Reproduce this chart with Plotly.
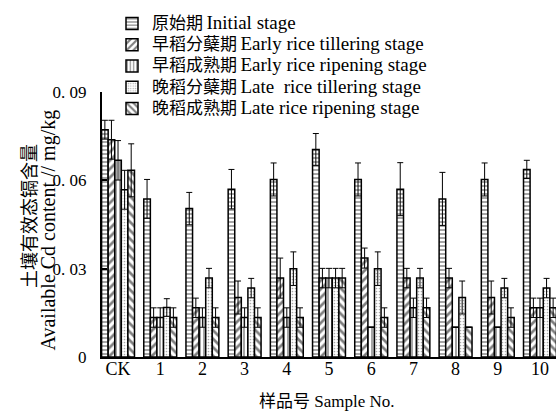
import plotly.graph_objects as go

categories = ["CK", "1", "2", "3", "4", "5", "6", "7", "8", "9", "10"]

initial = [0.0772, 0.0537, 0.0504, 0.0570, 0.0603, 0.0705, 0.0603, 0.0570, 0.0537, 0.0603, 0.0637]
initial_err = [0.0032, 0.0066, 0.0055, 0.0067, 0.0056, 0.0054, 0.0056, 0.0090, 0.0090, 0.0056, 0.0031]

early_till = [0.0738, 0.0134, 0.0167, 0.0202, 0.0268, 0.0268, 0.0336, 0.0268, 0.0268, 0.0202, 0.0167]
early_till_err = [0.0066, 0.0033, 0.0033, 0.0056, 0.0068, 0.0033, 0.0034, 0.0033, 0.0033, 0.0056, 0.0033]

early_ripe = [0.0668, 0.0134, 0.0134, 0.0134, 0.0134, 0.0268, 0.0101, 0.0167, 0.0101, 0.0101, 0.0167]
early_ripe_err = [0.0067, 0.0033, 0.0033, 0.0033, 0.0033, 0.0033, 0.0000, 0.0033, 0.0000, 0.0000, 0.0033]

late_till = [0.0568, 0.0168, 0.0268, 0.0234, 0.0300, 0.0268, 0.0300, 0.0268, 0.0202, 0.0234, 0.0234]
late_till_err = [0.0066, 0.0030, 0.0033, 0.0033, 0.0057, 0.0033, 0.0057, 0.0033, 0.0056, 0.0033, 0.0033]

late_ripe = [0.0634, 0.0134, 0.0134, 0.0134, 0.0134, 0.0268, 0.0134, 0.0167, 0.0101, 0.0134, 0.0167]
late_ripe_err = [0.0090, 0.0033, 0.0033, 0.0033, 0.0033, 0.0033, 0.0033, 0.0033, 0.0000, 0.0033, 0.0033]

series_cn = ["原始期", "早稻分蘖期", "早稻成熟期", "晚稻分蘖期", "晚稻成熟期"]
series_en = ["Initial stage", "Early rice tillering stage", "Early rice ripening stage",
             "Late  rice tillering stage", "Late rice ripening stage"]

y_ticks = [0, 0.03, 0.06, 0.09]
y_tick_labels = ["0", "0. 03", "0. 06", "0. 09"]

FONT = "Liberation Serif, Noto Sans CJK SC, serif"

series = [
    (initial, initial_err, "-", 4, 0.35, "black"),
    (early_till, early_till_err, "/", 6, 0.45, "black"),
    (early_ripe, early_ripe_err, "|", 4, 0.35, "black"),
    (late_till, late_till_err, ".", 3, 0.25, "#555555"),
    (late_ripe, late_ripe_err, "\\", 6, 0.45, "black"),
]

fig = go.Figure()
for (vals, errs, shape, size, sol, fg), cn, en in zip(series, series_cn, series_en):
    fig.add_trace(go.Bar(
        x=categories, y=vals,
        name=("<span style='font-size:17px'>" + cn + "</span> "
              "<span style='font-size:19px'>" + en + "</span>"),
        marker=dict(color="white",
                    line=dict(color="black", width=1.5),
                    pattern=dict(shape=shape, size=size, solidity=sol,
                                 fgcolor=fg, bgcolor="white")),
        error_y=dict(type="data", array=errs, visible=True,
                     color="black", thickness=1, width=3),
    ))

W = 454.0
H = 265.0

fig.update_layout(
    width=556, height=413,
    margin=dict(l=102, r=0, t=92, b=56),
    paper_bgcolor="white", plot_bgcolor="white",
    barmode="group", bargap=0.22, bargroupgap=0,
    font=dict(family=FONT, size=17, color="black"),
    showlegend=True,
    legend=dict(x=(112 - 102) / W, y=(357 - 8) / H, xanchor="left", yanchor="top",
                font=dict(family=FONT, size=14, color="black"),
                bgcolor="rgba(0,0,0,0)", itemwidth=30, traceorder="normal"),
    xaxis=dict(range=[-0.38, 10.38], showline=True, linecolor="black", linewidth=2,
               ticks="", showgrid=False, zeroline=False, ticklabelstandoff=-6,
               tickfont=dict(family=FONT, size=18, color="black")),
    yaxis=dict(range=[0, 0.09], tickvals=y_ticks, ticktext=y_tick_labels,
               showline=True, linecolor="black", linewidth=2, mirror=False,
               ticks="inside", ticklen=5, tickwidth=1.5, tickcolor="black",
               showgrid=False, zeroline=False, ticklabelstandoff=10,
               tickfont=dict(family=FONT, size=17, color="black")),
    annotations=[
        dict(text="土壤有效态镉含量", textangle=-90, xref="paper", yref="paper",
             x=(28 - 102) / W, y=(357 - 142) / H, xanchor="center", yanchor="top",
             showarrow=False, font=dict(family="Noto Sans CJK SC", size=18, color="black")),
        dict(text="Available Cd content // mg/kg", textangle=-90, xref="paper", yref="paper",
             x=(48 - 102) / W, y=(357 - 108) / H, xanchor="center", yanchor="top",
             showarrow=False, font=dict(family=FONT, size=20, color="black")),
        dict(text=("<span style='font-size:17px'>样品号</span> "
                   "<span style='font-size:17px'>Sample No.</span>"),
             xref="paper", yref="paper",
             x=(327 - 102) / W, y=(357 - 401) / H, xanchor="center", yanchor="middle",
             showarrow=False, font=dict(family=FONT, size=17, color="black")),
    ],
)

fig.write_html("out.html")
